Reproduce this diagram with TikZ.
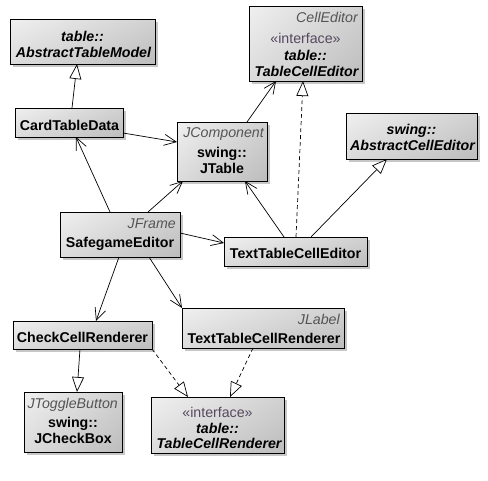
\documentclass[tikz,border=0pt]{standalone}
\usepackage{fontspec}
\setmainfont{Liberation Sans}
\usetikzlibrary{arrows.meta,shadows,shadings}
\definecolor{stereo}{RGB}{85,72,95}
\definecolor{jcls}{RGB}{85,85,85}
\tikzset{
  umlbox/.style={draw=black, line width=0.9pt, inner sep=0pt, outer sep=0pt,
    upper left=black!6, upper right=black!18, lower left=black!14, lower right=black!26,
    drop shadow={shadow xshift=3pt, shadow yshift=-3pt, fill=black!22, opacity=1}},
  nm/.style={anchor=base, font=\fontsize{14.2}{16}\selectfont\bfseries, inner sep=0pt},
  anm/.style={anchor=base, font=\fontsize{14.2}{16}\selectfont\bfseries\itshape, inner sep=0pt},
  st/.style={anchor=base, font=\fontsize{14.2}{16}\selectfont, text=stereo, inner sep=0pt},
  sup/.style={anchor=base east, font=\fontsize{14.2}{16}\selectfont\itshape, text=jcls, inner sep=0pt},
  assoc/.style={line width=0.7pt, -{Straight Barb[length=12pt,width=11pt,line width=0.7pt]}},
  gen/.style={line width=0.7pt, -{Triangle[open,length=15pt,width=12pt,fill=white,line width=0.7pt]}},
  real/.style={gen, dash pattern=on 4pt off 3pt}
}
\begin{document}
\begin{tikzpicture}[x=1pt,y=-1pt]
\useasboundingbox (0,0) rectangle (488,480);
% boxes
\node[umlbox, minimum width=145pt, minimum height=45pt] (atm) at (82.5,41.5) {};
\node[umlbox, minimum width=108pt, minimum height=29pt] (card) at (69,122.5) {};
\node[umlbox, minimum width=90pt, minimum height=59pt] (jtable) at (222,151.5) {};
\node[umlbox, minimum width=113pt, minimum height=75pt] (tced) at (305.5,43.5) {};
\node[umlbox, minimum width=131pt, minimum height=46pt] (ace) at (411.5,136) {};
\node[umlbox, minimum width=120pt, minimum height=45pt] (safe) at (120,234.5) {};
\node[umlbox, minimum width=143pt, minimum height=29pt] (tce) at (295.5,251.5) {};
\node[umlbox, minimum width=139pt, minimum height=28pt] (ccr) at (82.5,335) {};
\node[umlbox, minimum width=162pt, minimum height=40pt] (ttcr) at (263,328) {};
\node[umlbox, minimum width=98pt, minimum height=60pt] (jcb) at (73,422) {};
\node[umlbox, minimum width=133pt, minimum height=56pt] (tcr) at (217.5,425) {};
% texts
\node[anm] (atm1) at (82.5,41) {table::};
\node[anm] (atm2) at (83.5,57) {AbstractTableModel};
\node[nm] (card1) at (69.5,130) {CardTableData};
\node[sup] (jt0) at (264,137) {JComponent};
\node[nm] (jt1) at (222,157) {swing::};
\node[nm] (jt2) at (222,173) {JTable};
\node[sup] (tced0) at (358,22) {CellEditor};
\node[st] (tced1) at (305.5,43) {«interface»};
\node[anm] (tced2) at (305.5,60) {table::};
\node[anm] (tced3) at (306.5,76) {TableCellEditor};
\node[anm] (ace1) at (411.5,134) {swing::};
\node[anm] (ace2) at (412.5,150) {AbstractCellEditor};
\node[sup] (safe0) at (176,228) {JFrame};
\node[nm] (safe1) at (120,247) {SafegameEditor};
\node[nm] (tce1) at (295.5,258) {TextTableCellEditor};
\node[nm] (ccr1) at (82.5,342) {CheckCellRenderer};
\node[sup] (ttcr0) at (340,324) {JLabel};
\node[nm] (ttcr1) at (264,343) {TextTableCellRenderer};
\node[sup] (jcb0) at (118,408) {JToggleButton};
\node[nm] (jcb1) at (73,427) {swing::};
\node[nm] (jcb2) at (73,443) {JCheckBox};
\node[st] (tcr1) at (217.5,417) {«interface»};
\node[anm] (tcr2) at (217.5,433) {table::};
\node[anm] (tcr3) at (219,448) {TableCellRenderer};
% connectors
\draw[gen] ([xshift=57pt]card.north west) -- ([xshift=67pt]atm.south west);
\draw[assoc] ([yshift=4pt]card.south east) -- ([yshift=-20pt]jtable.north west);
\draw[assoc] ([xshift=50pt]safe.north west) -- ([xshift=61pt]card.south west);
\draw[assoc] ([xshift=88pt]safe.north west) -- ([xshift=6pt]jtable.south west);
\draw[assoc] ([yshift=-21pt]safe.north east) -- ([yshift=-6pt]tce.north west);
\draw[assoc] ([xshift=70pt]jtable.north west) -- ([xshift=27pt]tced.south west);
\draw[assoc] ([xshift=60pt]tce.north west) -- ([xshift=68pt]jtable.south west);
\draw[real] ([xshift=72pt]tce.north west) -- ([xshift=54pt]tced.south west);
\draw[gen] ([xshift=87pt]tce.north west) -- ([xshift=41pt]ace.south west);
\draw[assoc] ([xshift=59pt]safe.south west) -- ([xshift=83pt]ccr.north west);
\draw[assoc] ([xshift=89pt]safe.south west) -- (ttcr.north west);
\draw[gen] ([xshift=67pt]ccr.south west) -- ([xshift=53pt]jcb.north west);
\draw[real] (ccr.south east) -- ([xshift=37pt]tcr.north west);
\draw[real] ([xshift=71pt]ttcr.south west) -- ([xshift=79pt]tcr.north west);
\end{tikzpicture}
\end{document}
